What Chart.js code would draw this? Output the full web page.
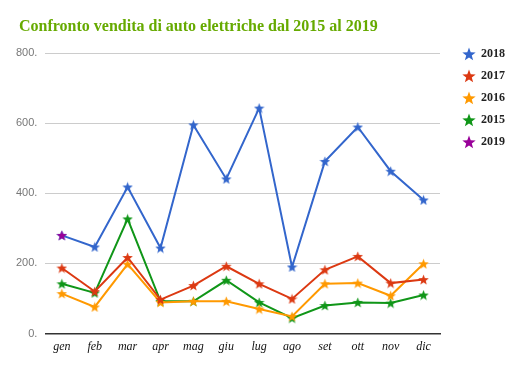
<!DOCTYPE html>
<html>
<head>
<meta charset="utf-8">
<script src="https://cdn.jsdelivr.net/npm/chart.js@4"></script>
<style>
  body { margin: 0; background: #fff; }
  #wrap { width: 525px; height: 371px; }
</style>
</head>
<body>
<div id="wrap"><canvas id="myChart" width="525" height="371"></canvas></div>
<script>
let mesi = ["gen", "feb", "mar", "apr", "mag", "giu", "lug", "ago", "set", "ott", "nov", "dic"];
let v2018 = [280, 247, 418, 244, 595, 441, 643, 190, 491, 589, 463, 381];
let v2017 = [187, 120, 217, 97, 137, 192, 142, 99, 182, 220, 144, 154];
let v2016 = [114, 76, 198, 89, 92, 92, 70, 49, 142, 144, 108, 199];
let v2015 = [142, 116, 327, 92, 92, 152, 89, 44, 80, 89, 87, 110];
let v2019 = [280, null, null, null, null, null, null, null, null, null, null, null];
let yTicks = [0, 200, 400, 600, 800];

function makeStar(color, size) {
  let c = document.createElement("canvas");
  c.width = size;
  c.height = size;
  let g = c.getContext("2d");
  let cx = size / 2, cy = size / 2 + size * 0.04;
  let outer = size / 2, inner = outer * 0.42;
  g.beginPath();
  for (let i = 0; i < 10; i++) {
    let r = i % 2 === 0 ? outer : inner;
    let a = -Math.PI / 2 + i * Math.PI / 5;
    let x = cx + r * Math.cos(a);
    let y = cy + r * Math.sin(a);
    if (i === 0) g.moveTo(x, y); else g.lineTo(x, y);
  }
  g.closePath();
  g.fillStyle = color;
  g.fill();
  return c;
}

let colori = {
  "2018": "#3366cc",
  "2017": "#dc3912",
  "2016": "#ff9900",
  "2015": "#109618",
  "2019": "#990099"
};

function serie(label, data, order) {
  return {
    label: label,
    data: data,
    borderColor: colori[label],
    backgroundColor: colori[label],
    borderWidth: 2,
    pointStyle: makeStar(colori[label], 11),
    pointRadius: 5,
    tension: 0,
    order: order
  };
}

// titolo a sinistra + legenda spostata in alto
const titlePlugin = {
  id: "leftTitle",
  beforeDraw(chart) {
    let lg = chart.legend;
    let dx = 453 - lg.left;
    lg.left += dx;
    lg.right += dx;
    let dy = 38 - lg.top;
    lg.top += dy;
    lg.bottom += dy;
  },
  afterDraw(chart) {
    let ctx = chart.ctx;
    ctx.save();
    ctx.font = "bold 16px 'Liberation Serif'";
    ctx.fillStyle = "#66aa00";
    ctx.textBaseline = "alphabetic";
    ctx.fillText("Confronto vendita di auto elettriche dal 2015 al 2019", 19, 31);
    ctx.restore();
  }
};

new Chart(document.getElementById("myChart"), {
  type: "line",
  data: {
    labels: mesi,
    datasets: [
      serie("2018", v2018, 1),
      serie("2017", v2017, 2),
      serie("2016", v2016, 3),
      serie("2015", v2015, 4),
      serie("2019", v2019, 0)
    ]
  },
  options: {
    responsive: false,
    animation: false,
    layout: { padding: { top: 53, left: 8, right: 23, bottom: 11 } },
    plugins: {
      title: { display: false },
      tooltip: { enabled: false },
      legend: {
        position: "right",
        align: "start",
        labels: {
          usePointStyle: true,
          color: "#222",
          font: { family: "'Liberation Serif'", size: 12, weight: "bold" },
          padding: 10,
          sort: (a, b) => a.datasetIndex - b.datasetIndex,
          generateLabels(chart) {
            let items = Chart.defaults.plugins.legend.labels.generateLabels(chart);
            items.forEach(it => {
              let ds = chart.data.datasets[it.datasetIndex];
              it.pointStyle = makeStar(ds.borderColor, 14);
            });
            return items;
          }
        }
      }
    },
    scales: {
      x: {
        offset: true,
        grid: { display: false, drawTicks: false },
        border: { display: true, color: "#333", width: 1.5 },
        ticks: {
          color: "#111",
          padding: 6,
          font: { family: "'Liberation Serif'", size: 12, style: "italic" }
        }
      },
      y: {
        min: 0,
        max: 800,
        afterBuildTicks: axis => { axis.ticks = yTicks.map(v => ({ value: v })); },
        grid: { color: "#cccccc", drawTicks: false },
        border: { display: false },
        ticks: {
          color: "#777",
          padding: 8,
          font: { family: "'Liberation Sans'", size: 11 },
          callback: v => v + "."
        }
      }
    }
  },
  plugins: [titlePlugin]
});
</script>
</body>
</html>
